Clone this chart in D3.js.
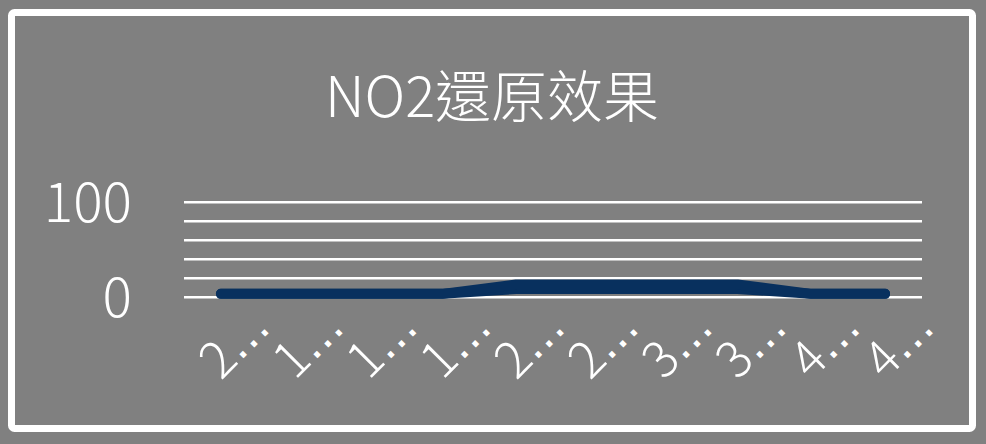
<!DOCTYPE html>
<html>
<head>
<meta charset="utf-8">
<script src="https://cdn.jsdelivr.net/npm/d3@7"></script>
<style>
  html, body { margin: 0; padding: 0; background: #808080; }
  svg { display: block; }
  text { font-family: "Noto Sans CJK TC", "Noto Sans", sans-serif; font-weight: 300; fill: #ffffff; }
</style>
</head>
<body>
<svg id="chart" width="986" height="444"></svg>
<script>
const title = "NO2還原效果";
const categories = ["2…", "1…", "1…", "1…", "2…", "2…", "3…", "3…", "4…", "4…"];
const seriesA = [3, 3, 3, 3, 12.8, 12.8, 12.8, 12.8, 3, 3];
const seriesB = [3, 3, 3, 3, 8.1, 8.1, 8.1, 8.1, 3, 3];
const gridTicks = [0, 20, 40, 60, 80, 100];
const labelTicks = [0, 100];

const svg = d3.select("#chart");
const W = 986, H = 444;

svg.append("rect").attr("width", W).attr("height", H).attr("fill", "#808080");
svg.append("rect")
  .attr("x", 11.5).attr("y", 12.5).attr("width", 961).attr("height", 416)
  .attr("rx", 3).attr("fill", "#808080")
  .attr("stroke", "#ffffff").attr("stroke-width", 7);

svg.append("text")
  .attr("x", 492).attr("y", 117)
  .attr("text-anchor", "middle")
  .attr("font-size", 56)
  .text(title);

const x = d3.scaleBand().domain(categories.map((d, i) => i)).range([184, 922]).padding(0);
const y = d3.scaleLinear().domain([0, 100]).range([296.7, 201.7]);

const yAxis = d3.axisLeft(y)
  .tickValues(gridTicks)
  .tickSize(-(922 - 184))
  .tickPadding(52)
  .tickFormat(d => labelTicks.includes(d) ? d : "");

const gy = svg.append("g").attr("transform", "translate(184,0)").call(yAxis);
gy.select(".domain").remove();
gy.selectAll(".tick line").attr("stroke", "#ffffff").attr("stroke-width", 2.6);
gy.selectAll(".tick text")
  .attr("fill", "#ffffff")
  .attr("font-size", 55)
  .attr("font-family", "'Noto Sans CJK TC', 'Noto Sans', sans-serif")
  .attr("font-weight", 300)
  .attr("dy", "0.36em");

const cx = i => x(i) + x.bandwidth() / 2;
const line = d3.line().x((d, i) => cx(i)).y(d => y(d)).curve(d3.curveLinear);

[seriesB, seriesA].forEach(s => {
  svg.append("path")
    .datum(s)
    .attr("d", line)
    .attr("fill", "none")
    .attr("stroke", "#08305e")
    .attr("stroke-width", 10)
    .attr("stroke-linecap", "round")
    .attr("stroke-linejoin", "round");
});

const gx = svg.append("g");
const lbl = gx.selectAll("text")
  .data(categories)
  .join("text")
  .attr("transform", (d, i) => `translate(${cx(i) + 51.5},${329.5}) rotate(-45)`)
  .attr("text-anchor", "end")
  .attr("font-size", 50);
lbl.append("tspan").text(d => d.slice(0, -1));
lbl.append("tspan")
  .attr("font-family", "'DejaVu Sans', sans-serif")
  .attr("font-weight", 400)
  .attr("font-size", 46)
  .text(d => d.slice(-1));
</script>
</body>
</html>
